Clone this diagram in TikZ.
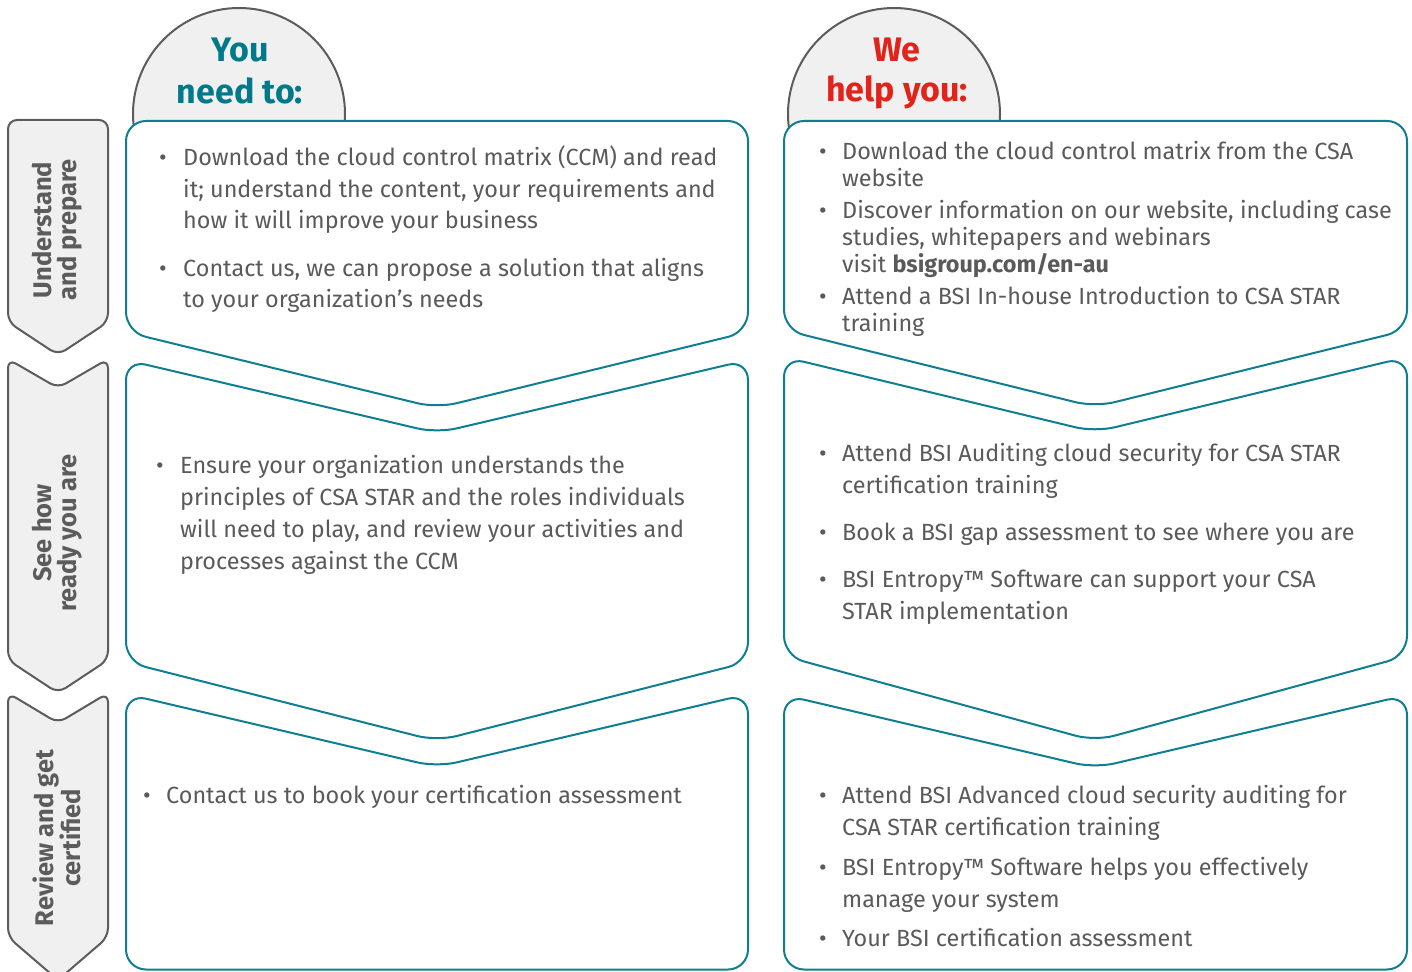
\documentclass[tikz,border=0pt]{standalone}
\usepackage{fontspec}
\setmainfont{Fira Sans}
\definecolor{tealc}{HTML}{0E7F90}
\definecolor{headteal}{HTML}{00798A}
\definecolor{headred}{HTML}{E2231A}
\definecolor{textgray}{HTML}{5A5A5A}
\definecolor{tabfill}{HTML}{F0F0F0}
\definecolor{grayline}{HTML}{5C5C5C}
\begin{document}
\begin{tikzpicture}[x=1pt,y=-1pt,
  box/.style={draw=tealc, line width=2pt, rounded corners=20pt, fill=white},
  tabshape/.style={draw=grayline, fill=tabfill, line width=2pt, rounded corners=9pt},
  hdr/.style={draw=grayline, fill=tabfill, line width=2pt, circle, minimum size=212pt, inner sep=0pt},
  txt/.style={anchor=base west, inner sep=0pt, text=textgray, font=\fontsize{23.4}{27}\selectfont},
  bul/.style={anchor=base, inner sep=0pt, text=textgray, font=\fontsize{23.4}{27}\selectfont},
  tabtxt/.style={rotate=90, align=center, text=grayline, font=\bfseries\fontsize{25.5}{24.5}\selectfont, inner sep=0pt},
  headtxt/.style={anchor=base, inner sep=0pt, font=\bfseries\fontsize{34}{40}\selectfont}]
\useasboundingbox (0,0) rectangle (1412,971);
\clip (0,0) rectangle (1412,971);

% header circles
\node[hdr] (hL) at (239,114) {};
\node[hdr] (hR) at (894,114) {};

% side tabs
\draw[tabshape] (58,120) -- (108,120) -- (108,322) -- (58,355) -- (8,322) -- (8,120) -- cycle;
\draw[tabshape] (8,500) -- (8,359) -- (58,388) -- (108,359) -- (108,660) -- (58,693) -- (8,660) -- cycle;
\draw[tabshape] (8,800) -- (8,693) -- (58,723) -- (108,693) -- (108,937) -- (58,980) -- (8,937) -- cycle;

\node[tabtxt] (t1) at (57,230) {Understand\\and prepare};
\node[tabtxt] (t2) at (57,533) {See how\\ready you are};
\node[tabtxt] (t3) at (57,838) {Review and get\\certified};

% left boxes
\draw[box] (437,121) -- (748,121) -- (748,332) -- (437,408) -- (126,332) -- (126,121) -- cycle;
\draw[box] (126,500) -- (126,360) -- (437,433) -- (748,360) -- (748,662) -- (437,741) -- (126,662) -- cycle;
\draw[box] (126,850) -- (126,694) -- (437,767) -- (748,694) -- (748,969.5) -- (126,969.5) -- cycle;

% right boxes
\draw[box] (1095,121) -- (1407,121) -- (1407,330) -- (1095,407) -- (784,330) -- (784,121) -- cycle;
\draw[box] (784,500) -- (784,357) -- (1095,432) -- (1407,357) -- (1407,656) -- (1095,741) -- (784,656) -- cycle;
\draw[box] (784,850) -- (784,695) -- (1095,768) -- (1407,695) -- (1407,969.5) -- (784,969.5) -- cycle;

% headers
\node[headtxt, text=headteal] (hL1) at (240,62) {You};
\node[headtxt, text=headteal] (hL2) at (240,103) {need to:};
\node[headtxt, text=headred] (hR1) at (897,62) {We};
\node[headtxt, text=headred] (hR2) at (897,102) {help you:};

% L1
\node[bul] (b11) at (163,165) {•};
\node[txt] (l11) at (183,165) {Download the cloud control matrix (CCM) and read};
\node[txt] (l12) at (183,197) {it; understand the content, your requirements and};
\node[txt] (l13) at (183,228) {how it will improve your business};
\node[bul] (b12) at (163,276) {•};
\node[txt] (l14) at (183,276) {Contact us, we can propose a solution that aligns};
\node[txt] (l15) at (183,307) {to your organization’s needs};

% L2
\node[bul] (b21) at (160,473) {•};
\node[txt] (l21) at (180,473) {Ensure your organization understands the};
\node[txt] (l22) at (180,505) {principles of CSA STAR and the roles individuals};
\node[txt] (l23) at (180,537) {will need to play, and review your activities and};
\node[txt] (l24) at (180,569) {processes against the CCM};

% L3
\node[bul] (b31) at (147,803) {•};
\node[txt] (l31) at (166,803) {Contact us to book your certification assessment};

% R1
\node[bul] (c11) at (823,159) {•};
\node[txt] (r11) at (842,159) {Download the cloud control matrix from the CSA};
\node[txt] (r12) at (842,186) {website};
\node[bul] (c12) at (823,218) {•};
\node[txt] (r13) at (842,218) {Discover information on our website, including case};
\node[txt] (r14) at (842,245) {studies, whitepapers and webinars};
\node[txt] (r15) at (842,272) {visit \textbf{bsigroup.com/en-au}};
\node[bul] (c13) at (823,304) {•};
\node[txt] (r16) at (842,304) {Attend a BSI In-house Introduction to CSA STAR};
\node[txt] (r17) at (842,331) {training};

% R2
\node[bul] (c21) at (823,461) {•};
\node[txt] (r21) at (842,461) {Attend BSI Auditing cloud security for CSA STAR};
\node[txt] (r22) at (842,493) {certification training};
\node[bul] (c22) at (823,540) {•};
\node[txt] (r23) at (842,540) {Book a BSI gap assessment to see where you are};
\node[bul] (c23) at (823,587) {•};
\node[txt] (r24) at (842,587) {BSI Entropy™ Software can support your CSA};
\node[txt] (r25) at (842,619) {STAR implementation};

% R3
\node[bul] (c31) at (823,803) {•};
\node[txt] (r31) at (842,803) {Attend BSI Advanced cloud security auditing for};
\node[txt] (r32) at (842,835) {CSA STAR certification training};
\node[bul] (c32) at (823,875) {•};
\node[txt] (r33) at (842,875) {BSI Entropy™ Software helps you effectively};
\node[txt] (r34) at (842,907) {manage your system};
\node[bul] (c33) at (823,946) {•};
\node[txt] (r35) at (842,946) {Your BSI certification assessment};
\end{tikzpicture}
\end{document}
